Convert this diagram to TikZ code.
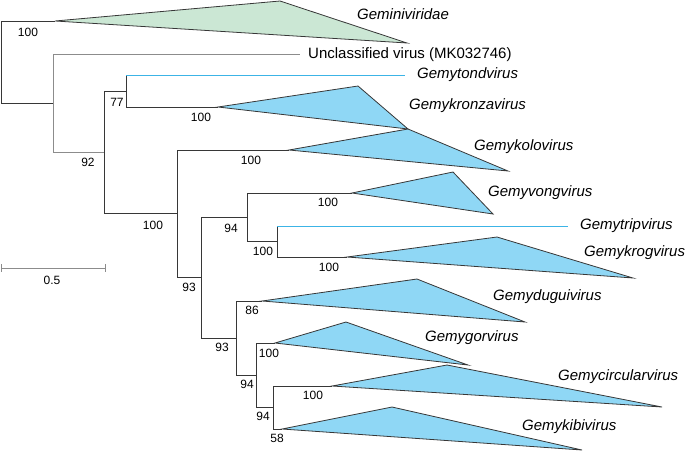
\documentclass[tikz,border=0pt]{standalone}
\usepackage{fontspec}
\setmainfont{Liberation Sans}
\usepackage{tikz}
\usetikzlibrary{calc}
\definecolor{mydark}{RGB}{55,55,55}
\definecolor{mygray}{RGB}{140,140,140}
\definecolor{myblue}{RGB}{60,180,230}
\definecolor{fillblue}{RGB}{143,215,245}
\definecolor{fillgreen}{RGB}{203,231,212}
\tikzset{
  branch/.style={line width=0.9pt, color=mydark},
  lightbranch/.style={line width=0.9pt, color=mygray},
  bluebranch/.style={line width=0.9pt, color=myblue},
  clade/.style={draw=mydark, fill=fillblue, line width=0.8pt, line join=miter},
  greenclade/.style={draw=mydark, fill=fillgreen, line width=0.8pt, line join=miter},
  tip/.style={anchor=west, inner sep=0pt, font=\fontsize{15}{18}\selectfont\itshape},
  plaintip/.style={anchor=west, inner sep=0pt, font=\fontsize{15}{18}\selectfont},
  boot/.style={inner sep=0pt, font=\fontsize{12}{14}\selectfont}
}

\begin{document}
\begin{tikzpicture}[x=1pt, y=-1pt]
  \useasboundingbox (0,0) rectangle (685,451);

  % Internal nodes
  \coordinate (root) at (1,62);
  \coordinate (n92) at (53,103);
  \coordinate (n100a) at (104,152);
  \coordinate (n77) at (126,91);
  \coordinate (n100b) at (177,213);
  \coordinate (n93a) at (201,277);
  \coordinate (n94a) at (247,217);
  \coordinate (n100c) at (277,241);
  \coordinate (n93b) at (236,338);
  \coordinate (n94b) at (256,375);
  \coordinate (n94c) at (273,407);

  % Tips and clade apices
  \coordinate (gemini) at (55,21);
  \coordinate (unclass) at (300,54);
  \coordinate (tond) at (405,75);
  \coordinate (kronza) at (218,107);
  \coordinate (kolo) at (289,150);
  \coordinate (vong) at (352,193);
  \coordinate (trip) at (568,226);
  \coordinate (krog) at (347,257);
  \coordinate (dugui) at (262,301);
  \coordinate (gor) at (275,343);
  \coordinate (circ) at (332,386);
  \coordinate (kibi) at (282,429);

  % Collapsed clades
  \draw[greenclade] (gemini) -- (280,1) -- (407,43) -- cycle;
  \draw[clade] (kronza) -- (358,86) -- (408,129) -- cycle;
  \draw[clade] (kolo) -- (408,129) -- (508,171) -- cycle;
  \draw[clade] (vong) -- (453,172) -- (493,214) -- cycle;
  \draw[clade] (krog) -- (497,237) -- (633,278) -- cycle;
  \draw[clade] (dugui) -- (417,279) -- (525,322) -- cycle;
  \draw[clade] (gor) -- (346,322) -- (468,365) -- cycle;
  \draw[clade] (circ) -- (447,365) -- (662,407) -- cycle;
  \draw[clade] (kibi) -- (392,407) -- (582,450) -- cycle;

  % Branches
  \draw[branch] (root) |- (gemini);
  \draw[branch] (root) |- (n92);
  \draw[lightbranch] (n92) |- (unclass);
  \draw[lightbranch] (n92) |- (n100a);
  \draw[branch] (n100a) |- (n77);
  \draw[branch] (n100a) |- (n100b);
  \draw[branch] (n77) -- (n77 |- tond);
  \draw[bluebranch] (n77 |- tond) -- (tond);
  \draw[branch] (n77) |- (kronza);
  \draw[branch] (n100b) |- (kolo);
  \draw[branch] (n100b) |- (n93a);
  \draw[branch] (n93a) |- (n94a);
  \draw[branch] (n93a) |- (n93b);
  \draw[branch] (n94a) |- (vong);
  \draw[branch] (n94a) |- (n100c);
  \draw[branch] (n100c) -- (n100c |- trip);
  \draw[bluebranch] (n100c |- trip) -- (trip);
  \draw[branch] (n100c) |- (krog);
  \draw[branch] (n93b) |- (dugui);
  \draw[branch] (n93b) |- (n94b);
  \draw[branch] (n94b) |- (gor);
  \draw[branch] (n94b) |- (n94c);
  \draw[branch] (n94c) |- (circ);
  \draw[branch] (n94c) |- (kibi);

  % Tip labels
  \node[tip] (lgemini) at (357,14) {Geminiviridae};
  \node[plaintip] (lunclass) at (308,55) {Unclassified virus (MK032746)};
  \node[tip] (ltond) at (417,75) {Gemytondvirus};
  \node[tip] (lkronza) at (409,106) {Gemykronzavirus};
  \node[tip] (lkolo) at (474,147) {Gemykolovirus};
  \node[tip] (lvong) at (488,193) {Gemyvongvirus};
  \node[tip] (ltrip) at (580,226) {Gemytripvirus};
  \node[tip] (lkrog) at (584,253) {Gemykrogvirus};
  \node[tip] (ldugui) at (493,297) {Gemyduguivirus};
  \node[tip] (lgor) at (425,338) {Gemygorvirus};
  \node[tip] (lcirc) at (558,377) {Gemycircularvirus};
  \node[tip] (lkibi) at (522,427) {Gemykibivirus};

  % Bootstrap values
  \node[boot] (bgemini) at (28,32) {100};
  \node[boot] (b77) at (117,102) {77};
  \node[boot] (bkronza) at (201,117) {100};
  \node[boot] (b92) at (88,162) {92};
  \node[boot] (b100b) at (153,225) {100};
  \node[boot] (bkolo) at (251,160) {100};
  \node[boot] (b93a) at (189,287) {93};
  \node[boot] (b94a) at (231,228) {94};
  \node[boot] (bvong) at (328,202) {100};
  \node[boot] (b100c) at (263,251) {100};
  \node[boot] (bkrog) at (329,267) {100};
  \node[boot] (b93b) at (222,347) {93};
  \node[boot] (bdugui) at (252,310) {86};
  \node[boot] (b94b) at (247,384) {94};
  \node[boot] (bgor) at (269,353) {100};
  \node[boot] (b94c) at (263,416) {94};
  \node[boot] (bcirc) at (313,395) {100};
  \node[boot] (bkibi) at (277,438) {58};

  % Scale bar
  \coordinate (sbleft) at (1,268);
  \coordinate (sbright) at (105,268);
  \draw[lightbranch] (sbleft) -- (sbright);
  \draw[lightbranch] ($(sbleft)+(0,-4)$) -- ($(sbleft)+(0,4)$);
  \draw[lightbranch] ($(sbright)+(0,-4)$) -- ($(sbright)+(0,4)$);
  \node[boot] (lscale) at (52,280) {0.5};
\end{tikzpicture}
\end{document}
